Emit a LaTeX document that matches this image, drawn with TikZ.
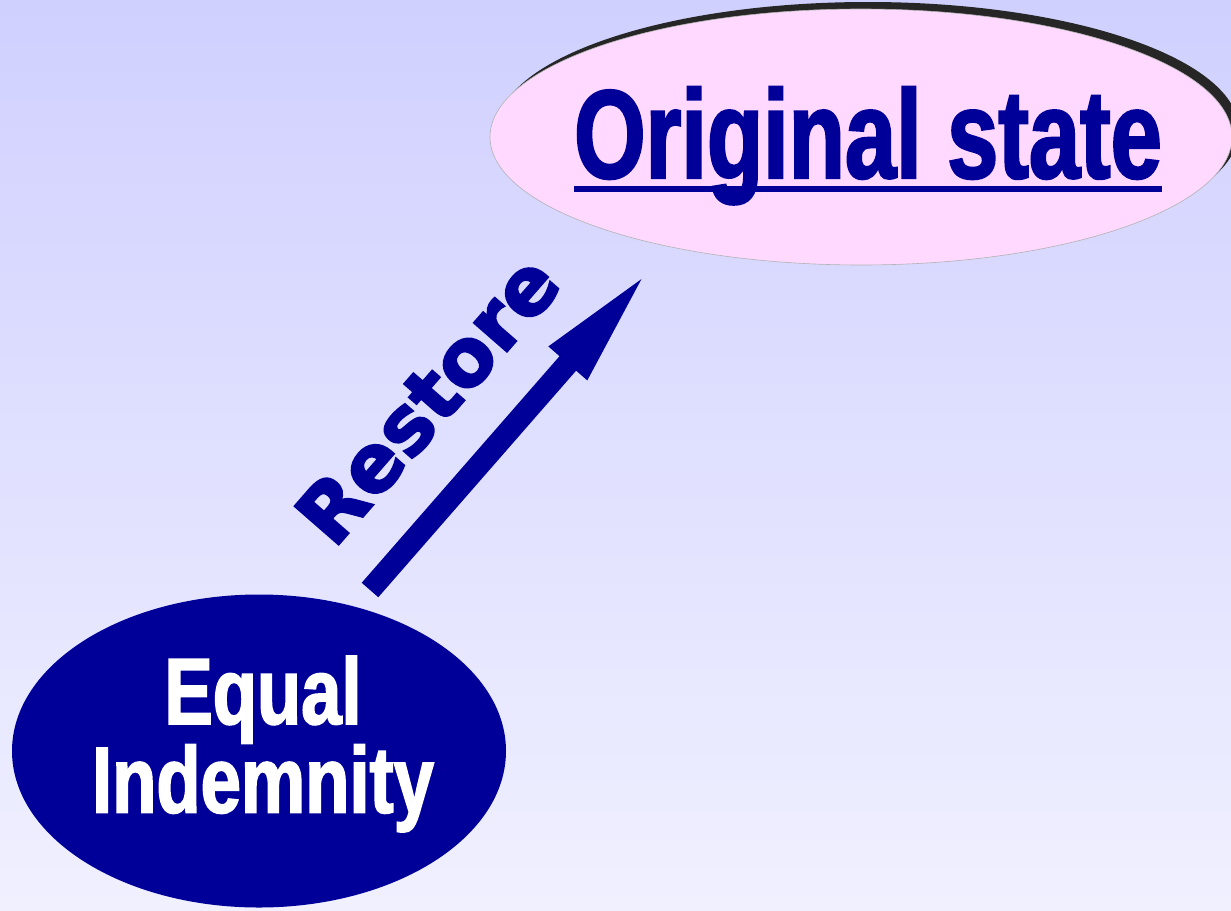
\documentclass[tikz,border=0pt]{standalone}
\usepackage{fontspec}
\usetikzlibrary{shapes.geometric,arrows.meta}
\newfontfamily\impactfont[FakeStretch=0.73,FakeBold=1.8]{Liberation Sans}
\newfontfamily\impactwide[FakeStretch=0.77,FakeBold=1.8]{Liberation Sans}
\newfontfamily\blackfont[FakeBold=2.5]{DejaVu Sans}
\definecolor{navy}{RGB}{0,0,153}
\definecolor{pinkfill}{RGB}{255,217,255}
\definecolor{bgtop}{RGB}{208,208,255}
\definecolor{bgbot}{RGB}{240,240,255}
\begin{document}
\begin{tikzpicture}[x=1pt,y=-1pt,
  bubble/.style={ellipse, inner sep=0pt, outer sep=0pt},
  label/.style={inner sep=0pt, outer sep=0pt}]
\shade[top color=bgtop,bottom color=bgbot] (0,0) rectangle (1231,910);
\useasboundingbox (0,0) rectangle (1231,910);
% top ellipse with shadow
\node[bubble, fill=black!85, minimum width=742pt, minimum height=256pt] (shadow) at (868,130) {};
\node[bubble, fill=pinkfill, draw=gray!60, line width=0.6pt, minimum width=742pt, minimum height=256pt] (orig) at (861,137) {};
\node[label, anchor=base, text=navy, font=\impactfont\bfseries\fontsize{126}{126}\selectfont] (otext) at (868,178) {Original state};
\draw[navy, line width=6pt] ([yshift=-11pt]otext.base west) -- ([yshift=-11pt]otext.base east);
% bottom ellipse
\node[bubble, fill=navy, minimum width=494pt, minimum height=313pt] (eq) at (259,751) {};
\node[label, text=white, align=center,
  font=\impactwide\bfseries\fontsize{94}{81}\selectfont] (eqtext) at (263,744) {Equal\\Indemnity};
% arrow
\coordinate (tail) at (370,590);
\coordinate (tip) at (652,267);
\draw[navy, line width=22pt, -{Triangle[length=128pt,width=44pt]}] (tail) -- (tip);
\node[label, anchor=base, rotate=48.9, text=navy, font=\blackfont\bfseries\fontsize{80}{80}\selectfont] (rest) at (449,418) {Restore};
\end{tikzpicture}
\end{document}
